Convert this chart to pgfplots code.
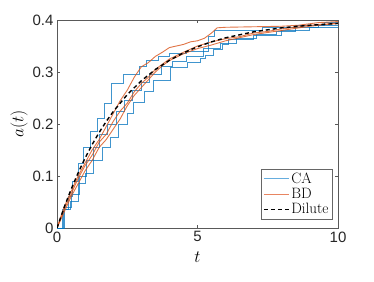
\documentclass[border=0pt]{standalone}
\usepackage{fontspec}
\usepackage{pgfplots}
\pgfplotsset{compat=1.18}
\newfontfamily\tickfont{Liberation Sans}
\definecolor{mblue}{rgb}{0,0.447,0.741}
\definecolor{morange}{rgb}{0.85,0.325,0.098}
\definecolor{lblue}{rgb}{0.40,0.68,0.87}
\definecolor{lorange}{rgb}{0.91,0.52,0.38}
\begin{document}
\begin{tikzpicture}
\path[use as bounding box] (-57pt,-53pt) rectangle (317pt,228pt);
\begin{axis}[
  at={(0pt,0pt)}, anchor=south west,
  scale only axis, width=281pt, height=208pt,
  xmin=0, xmax=10, ymin=0, ymax=0.4,
  xtick={0,5,10}, ytick={0,0.1,0.2,0.3,0.4},
  scaled y ticks=false,
  tick align=inside, major tick length=3pt,
  axis line style={black!65, line width=0.5pt},
  every tick/.style={black!65, line width=0.5pt},
  /pgf/number format/assume math mode=true,
  tick label style={font=\tickfont\fontsize{15}{17}\selectfont, text=black!85},
  xlabel={$t$}, ylabel={$a(t)$},
  label style={font=\fontsize{16}{18}\selectfont},
  xlabel style={yshift=-3pt},
  ylabel style={yshift=-2pt},
  legend cell align=left,
  legend style={at={(rel axis cs:1,0)}, anchor=south east, xshift=-6pt, yshift=9pt,
    draw=black!60, fill=white, font=\fontsize{15}{17}\selectfont,
    inner sep=1.5pt, row sep=0pt, line width=0.5pt,
    nodes={inner sep=1.8pt}},
  legend image code/.code={\draw[#1] (0pt,0pt) -- (25pt,0pt);},
]
\addlegendimage{draw=lblue, line width=1pt}
\addlegendimage{draw=lorange, line width=1pt}
\addlegendimage{draw=black, line width=1.4pt, dash pattern=on 4pt off 3pt}
% CA curves (stepwise)
\addplot[const plot, mblue, line width=0.9pt, opacity=0.75, forget plot] coordinates {
(0,0) (0.2,0.035) (0.4,0.06) (0.55,0.09) (0.75,0.125) (0.95,0.155) (1.2,0.185) (1.45,0.21) (1.7,0.24) (1.95,0.278) (2.37,0.295) (2.95,0.31) (3.2,0.322) (3.6,0.33) (4.0,0.336) (4.6,0.34) (5.4,0.369) (5.6,0.379) (7.3,0.385) (8.5,0.39) (9.5,0.395) (10,0.395)};
\addplot[const plot, mblue, line width=0.9pt, opacity=0.75, forget plot] coordinates {
(0,0) (0.25,0.04) (0.5,0.065) (0.8,0.1) (1.05,0.13) (1.3,0.155) (1.5,0.18) (1.8,0.2) (2.1,0.225) (2.4,0.245) (2.7,0.265) (3.0,0.28) (3.3,0.295) (3.7,0.31) (4.1,0.32) (4.6,0.33) (5.2,0.345) (5.8,0.355) (6.4,0.365) (7.1,0.372) (7.8,0.378) (8.5,0.385) (9.3,0.39) (10,0.392)};
\addplot[const plot, mblue, line width=0.9pt, opacity=0.75, forget plot] coordinates {
(0,0) (0.23,0.036) (0.47,0.052) (0.77,0.085) (1.0,0.105) (1.3,0.13) (1.6,0.155) (1.9,0.175) (2.2,0.2) (2.5,0.22) (2.73,0.241) (3.1,0.262) (3.44,0.283) (4.03,0.308) (4.63,0.318) (5.1,0.327) (5.3,0.332) (5.55,0.344) (5.87,0.353) (6.1,0.363) (7.0,0.37) (8.0,0.38) (9.0,0.386) (10,0.39)};
% BD curves
\addplot[sharp plot, morange, line width=0.9pt, opacity=0.8, forget plot] coordinates {
(0,0) (0.25,0.04) (0.5,0.07) (0.75,0.1) (1.0,0.125) (1.25,0.15) (1.5,0.17) (1.75,0.195) (2.0,0.22) (2.25,0.245) (2.5,0.265) (2.75,0.29) (3.0,0.31) (3.25,0.318) (3.5,0.33) (3.75,0.338) (4.0,0.347) (4.25,0.35) (4.5,0.353) (4.75,0.358) (5.0,0.36) (5.25,0.365) (5.5,0.375) (5.7,0.385) (6,0.386) (7,0.387) (8,0.388) (8.6,0.39) (9.3,0.395) (10,0.397)};
\addplot[sharp plot, morange, line width=0.9pt, opacity=0.8, forget plot] coordinates {
(0,0) (0.25,0.035) (0.5,0.065) (0.75,0.095) (1.0,0.12) (1.25,0.14) (1.5,0.165) (1.75,0.18) (2.0,0.205) (2.25,0.225) (2.5,0.24) (2.75,0.262) (3.0,0.278) (3.25,0.29) (3.5,0.305) (3.75,0.315) (4.0,0.325) (4.5,0.338) (5.0,0.35) (5.5,0.358) (6.0,0.364) (6.5,0.368) (7,0.375) (7.5,0.378) (8,0.383) (8.5,0.386) (9,0.39) (9.5,0.392) (10,0.394)};
\addplot[sharp plot, morange, line width=0.9pt, opacity=0.8, forget plot] coordinates {
(0,0) (0.25,0.03) (0.5,0.06) (0.75,0.085) (1.0,0.11) (1.25,0.13) (1.5,0.155) (1.75,0.17) (2.0,0.19) (2.25,0.21) (2.5,0.235) (2.75,0.255) (3.0,0.27) (3.25,0.285) (3.5,0.3) (3.75,0.312) (4.0,0.322) (4.5,0.335) (5.0,0.345) (5.5,0.352) (6.0,0.36) (6.5,0.366) (7.0,0.372) (7.5,0.376) (8.0,0.38) (8.5,0.384) (9,0.388) (9.5,0.391) (10,0.393)};
% Dilute
\addplot[black, line width=1.4pt, dash pattern=on 4pt off 3pt, forget plot] coordinates {
(0,0) (0.25,0.039) (0.5,0.0742) (0.75,0.1059) (1,0.1345) (1.25,0.1604) (1.5,0.1837) (1.75,0.2048) (2,0.2238) (2.5,0.2565) (3,0.2831) (3.5,0.3048) (4,0.3224) (4.5,0.3368) (5,0.3485) (5.5,0.358) (6,0.3658) (7,0.3773) (8,0.385) (9,0.39) (10,0.3934)};
\legend{CA,BD,Dilute}
\end{axis}
\end{tikzpicture}
\end{document}
